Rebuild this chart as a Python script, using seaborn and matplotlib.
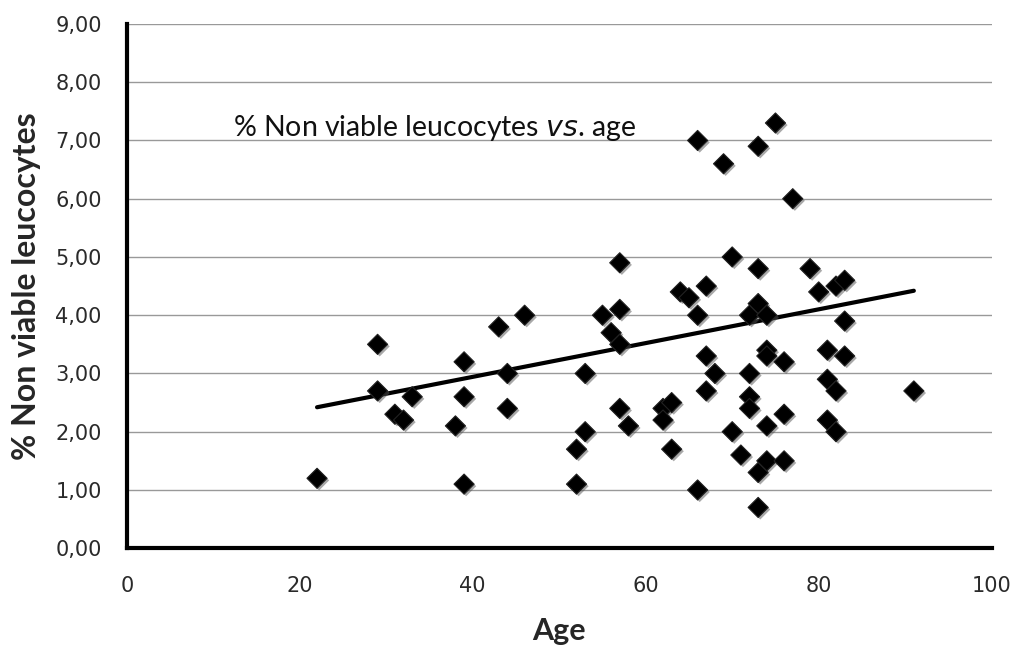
import numpy as np
import pandas as pd
import matplotlib
matplotlib.use('Agg')
import matplotlib.pyplot as plt
import matplotlib.patheffects as pe
from matplotlib.ticker import FuncFormatter
import seaborn as sns

# valores
age = [22, 29, 29, 31, 32, 33, 38, 39, 39, 39, 43, 44, 44, 46,
       52, 52, 53, 53, 55, 56, 57, 57, 57, 57, 58, 62, 62, 63, 63,
       64, 65, 66, 66, 66, 67, 67, 67, 68, 69, 70, 70, 71,
       72, 72, 72, 72, 73, 73, 73, 73, 73, 74, 74, 74, 74, 74,
       75, 76, 76, 76, 77, 79, 80, 81, 81, 81, 82, 82, 82,
       83, 83, 83, 91]
non_viable = [1.2, 3.5, 2.7, 2.3, 2.2, 2.6, 2.1, 3.2, 2.6, 1.1, 3.8, 3.0, 2.4, 4.0,
              1.7, 1.1, 3.0, 2.0, 4.0, 3.7, 4.9, 4.1, 3.5, 2.4, 2.1, 2.4, 2.2, 2.5, 1.7,
              4.4, 4.3, 7.0, 4.0, 1.0, 4.5, 3.3, 2.7, 3.0, 6.6, 5.0, 2.0, 1.6,
              4.0, 3.0, 2.6, 2.4, 6.9, 4.8, 4.2, 1.3, 0.7, 4.0, 3.4, 3.3, 2.1, 1.5,
              7.3, 3.2, 2.3, 1.5, 6.0, 4.8, 4.4, 3.4, 2.9, 2.2, 4.5, 2.7, 2.0,
              4.6, 3.9, 3.3, 2.7]

# linha de tendência (extremos)
trend_age = [22, 91]
trend_val = [2.42, 4.42]

x_ticks = [0, 20, 40, 60, 80, 100]
y_ticks = [0, 1, 2, 3, 4, 5, 6, 7, 8, 9]

df = pd.DataFrame({'Age': age, 'NonViable': non_viable})
trend = pd.DataFrame({'Age': trend_age, 'NonViable': trend_val})

sns.set_style('white')
plt.rcParams['font.family'] = ['DejaVu Sans']

fig = plt.figure(figsize=(10.14, 6.48), dpi=100)
ax = fig.add_axes([0.125, 0.154, 0.853, 0.809])

# grelha horizontal
for v in y_ticks[1:]:
    ax.axhline(v, color='#999999', lw=1, zorder=0)

sns.lineplot(data=trend, x='Age', y='NonViable', color='black', lw=3,
             solid_capstyle='round', zorder=2, ax=ax)

sns.scatterplot(data=df, x='Age', y='NonViable', marker='D', s=105,
                color='black', edgecolor='#222222', linewidth=0.8, ax=ax, zorder=3)
for coll in ax.collections:
    coll.set_path_effects([pe.SimplePatchShadow(offset=(1.5, -1.5), shadow_rgbFace='#555555', alpha=0.5),
                           pe.Normal()])

ax.set_xlim(0, 100)
ax.set_ylim(0, 9)
ax.set_xticks(x_ticks)
ax.set_yticks(y_ticks)
ax.yaxis.set_major_formatter(FuncFormatter(lambda v, p: f"{v:.2f}".replace('.', ',')))

for s in ['top', 'right']:
    ax.spines[s].set_visible(False)
for s in ['left', 'bottom']:
    ax.spines[s].set_linewidth(3)
    ax.spines[s].set_color('black')

ax.tick_params(axis='both', direction='out', length=7, width=2, color='black',
               labelsize=15, labelcolor='#2a2a2a')
ax.tick_params(axis='y', pad=11)
ax.tick_params(axis='x', pad=13)

ax.set_xlabel('Age', fontsize=22, fontweight='bold', family='Lato', labelpad=15)
ax.set_ylabel('% Non viable leucocytes', fontsize=23, fontweight='bold', family='Lato', labelpad=10)

ax.text(12.25, 7.08, r'% Non viable leucocytes $\it{vs}$. age', fontsize=20.5, family='Lato',
        ha='left', va='baseline', color='#111111')

fig.savefig('out.png', dpi=100)
